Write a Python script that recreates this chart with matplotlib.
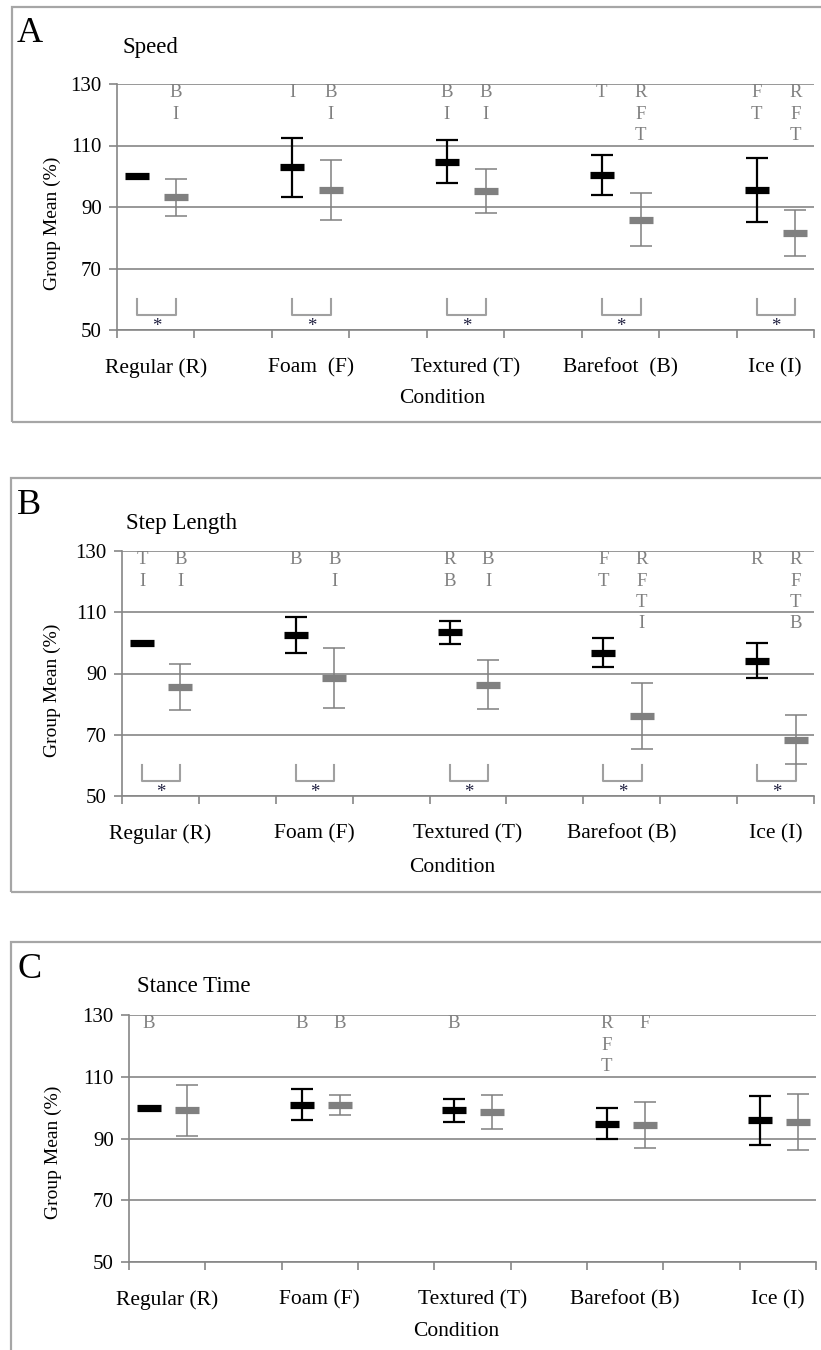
import numpy as np
import matplotlib.pyplot as plt
from matplotlib.patches import Rectangle

plt.rcParams['font.family'] = ['Liberation Serif', 'DejaVu Serif']

# conditions (x axis) and significance letters
conditions_a = ["Regular (R)", "Foam  (F)", "Textured (T)", "Barefoot  (B)", "Ice (I)"]
conditions_b = ["Regular (R)", "Foam (F)", "Textured (T)", "Barefoot (B)", "Ice (I)"]
conditions_c = ["Regular (R)", "Foam (F)", "Textured (T)", "Barefoot (B)", "Ice (I)"]

# Speed (panel A)
speed_black_mean = [100.0, 102.9, 104.7, 100.5, 95.5]
speed_black_err = [0.0, 9.5, 7.0, 6.5, 10.4]
speed_gray_mean = [93.1, 95.5, 95.2, 85.9, 81.6]
speed_gray_err = [6.0, 9.8, 7.0, 8.7, 7.5]
speed_black_letters = ["", "I", "BI", "T", "FT"]
speed_gray_letters = ["BI", "BI", "BI", "RFT", "RFT"]

# Step length (panel B)
step_black_mean = [100.0, 102.6, 103.4, 96.8, 94.2]
step_black_err = [0.0, 5.8, 3.9, 4.8, 5.8]
step_gray_mean = [85.5, 88.6, 86.4, 76.1, 68.4]
step_gray_err = [7.5, 9.8, 7.9, 10.7, 7.9]
step_black_letters = ["TI", "B", "RB", "FT", "R"]
step_gray_letters = ["BI", "BI", "BI", "RFTI", "RFTB"]

# Stance time (panel C)
stance_black_mean = [100.0, 101.0, 99.2, 94.8, 95.9]
stance_black_err = [0.0, 5.0, 3.7, 5.1, 8.0]
stance_gray_mean = [99.1, 100.8, 98.5, 94.3, 95.3]
stance_gray_err = [8.3, 3.2, 5.5, 7.4, 9.0]
stance_black_letters = ["B", "B", "B", "RFT", ""]
stance_gray_letters = ["", "B", "", "F", ""]

W, H = 821, 1350
GRID = '#868686'
GRAY = '#808080'

fig = plt.figure(figsize=(W / 100, H / 100), dpi=100)


def fx(x):
    return x / W


def fy(y):
    return 1 - y / H


def draw_panel(box, ax_px, letter, letter_y, title, title_xy, ylab_xy, cond_xy,
               conditions, bm, be, gm, ge, bl, gl, brackets):
    # panel frame
    x0, y0, x1, y1 = box
    fig.patches.append(Rectangle((fx(x0), fy(y1)), fx(x1) - fx(x0), fy(y0) - fy(y1),
                                 transform=fig.transFigure, fill=False,
                                 edgecolor='#a6a6a6', lw=1.6))
    left, top, right, bottom = ax_px
    ax = fig.add_axes([fx(left), fy(bottom), fx(right) - fx(left), fy(top) - fy(bottom)])

    n = len(conditions)
    centers = np.arange(n) * 2 + 0.5
    xb = centers - 0.24
    xg = centers + 0.26

    ax.errorbar(xb, bm, yerr=be, fmt='none', ecolor='black', elinewidth=1.6,
                capsize=8, capthick=1.6, zorder=3)
    ax.errorbar(xg, gm, yerr=ge, fmt='none', ecolor=GRAY, elinewidth=1.1,
                capsize=8, capthick=1.1, zorder=3)
    ax.plot(xb, bm, ls='none', marker='_', ms=17, mew=5.2, color='black', zorder=4)
    ax.plot(xg, gm, ls='none', marker='_', ms=17, mew=5.2, color=GRAY, zorder=4)

    # letters above each mean
    for xs, labs in ((xb, bl), (xg, gl)):
        for x, s in zip(xs, labs):
            for k, ch in enumerate(s):
                ax.text(x, 127.2 - 7 * k, ch, color=GRAY, fontsize=13.5,
                        ha='center', va='center')

    if brackets:
        for a, b in zip(xb, xg):
            ax.plot([a, a, b, b], [60, 55, 55, 60], color='#a0a0a0', lw=1.5,
                    clip_on=False)
            ax.text((a + b) / 2, 51.3, '*', fontsize=13.5, ha='center',
                    va='center', color='#202040')

    ax.set_xlim(0, 2 * n - 1)
    ax.set_ylim(50, 130)
    ax.set_yticks([50, 70, 90, 110, 130])
    ax.yaxis.grid(True, color=GRID, lw=1.2)
    ax.set_axisbelow(True)
    ax.set_xticks(np.arange(0, 2 * n))
    ax.set_xticklabels([])
    ax.set_xticks(centers, minor=True)
    ax.set_xticklabels(conditions, minor=True, fontsize=15.5)
    ax.tick_params(axis='x', which='major', length=6, width=1.2, color=GRID)
    ax.tick_params(axis='x', which='minor', length=0, pad=20)
    ax.tick_params(axis='y', length=6, width=1.2, color=GRID, labelsize=15, pad=5)
    for s in ('top', 'right'):
        ax.spines[s].set_visible(False)
    for s in ('left', 'bottom'):
        ax.spines[s].set_color(GRID)
        ax.spines[s].set_linewidth(1.2)

    fig.text(fx(17), fy(letter_y), letter, fontsize=26, va='center', ha='left')
    fig.text(fx(title_xy[0]), fy(title_xy[1]), title, fontsize=16.5, va='center', ha='left')
    fig.text(fx(ylab_xy[0]), fy(ylab_xy[1]), 'Group Mean (%)', fontsize=14,
             rotation=90, va='center', ha='center')
    fig.text(fx(cond_xy[0]), fy(cond_xy[1]), 'Condition', fontsize=15.5,
             va='center', ha='center')
    return ax


draw_panel((12, 7, 823, 422), (117, 84, 814, 330), 'A', 33, 'Speed', (122, 47),
           (52, 223), (442, 398), conditions_a,
           speed_black_mean, speed_black_err, speed_gray_mean, speed_gray_err,
           speed_black_letters, speed_gray_letters, True)

draw_panel((11, 478, 823, 892), (122, 551, 814, 796), 'B', 506, 'Step Length', (126, 523),
           (52, 690), (452, 868), conditions_b,
           step_black_mean, step_black_err, step_gray_mean, step_gray_err,
           step_black_letters, step_gray_letters, True)

draw_panel((11, 942, 823, 1365), (129, 1015, 816, 1262), 'C', 969, 'Stance Time', (137, 986),
           (53, 1152), (456, 1332), conditions_c,
           stance_black_mean, stance_black_err, stance_gray_mean, stance_gray_err,
           stance_black_letters, stance_gray_letters, False)

fig.savefig('out.png', dpi=100)
